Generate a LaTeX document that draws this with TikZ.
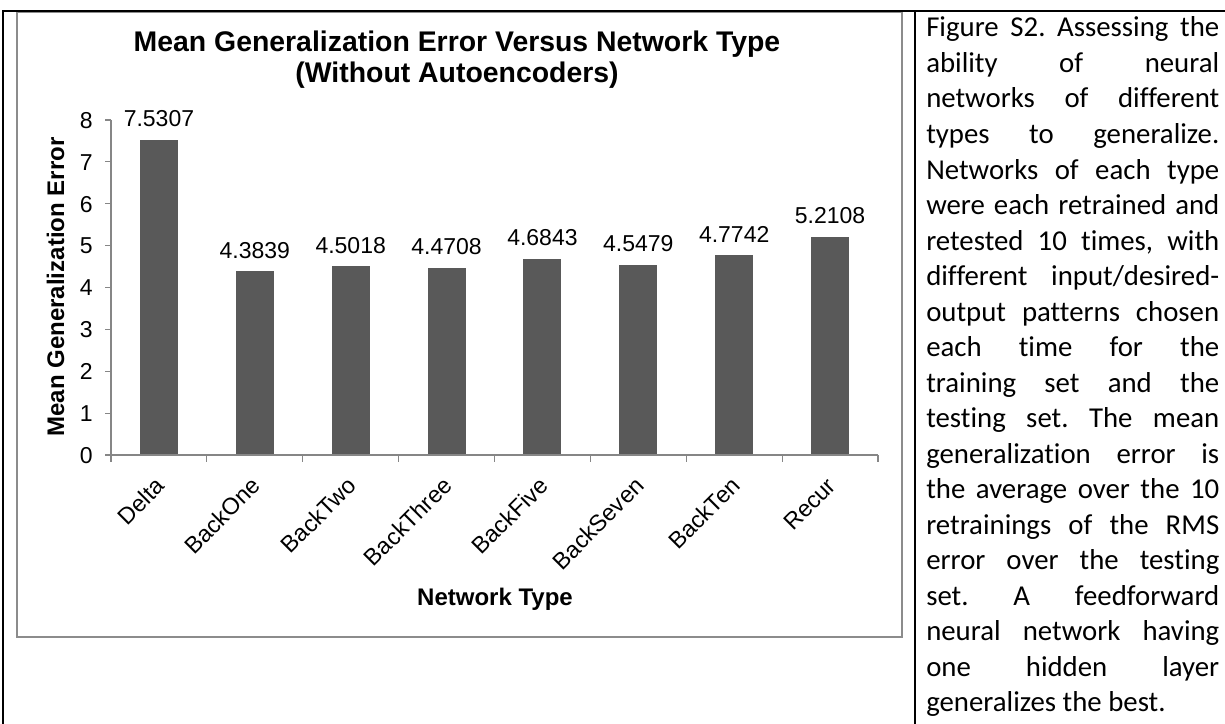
\documentclass[tikz,border=0pt]{standalone}
\usepackage{fontspec}
\setmainfont{Liberation Sans}
\newfontfamily\capfont[Ligatures=NoCommon]{Carlito}
\definecolor{barc}{HTML}{595959}
\definecolor{axc}{HTML}{868686}
\definecolor{framec}{HTML}{8C8C8C}
\tikzset{
  axline/.style={axc, line width=0.8pt},
  ticklab/.style={inner sep=0pt, font=\fontsize{17.25pt}{20pt}\selectfont},
  catlab/.style={inner sep=0pt, rotate=45, anchor=east, text height=0.72em, text depth=0pt, font=\fontsize{17.5pt}{20pt}\selectfont},
  vallab/.style={inner sep=0pt, anchor=base, font=\fontsize{17.25pt}{20pt}\selectfont},
  axtitle/.style={inner sep=0pt, font=\bfseries\fontsize{18pt}{21pt}\selectfont},
  ttl/.style={inner sep=0pt, anchor=base, font=\bfseries\fontsize{21.3pt}{24pt}\selectfont},
  capline/.style={inner sep=0pt, anchor=base west, font=\capfont\fontsize{21.6pt}{26pt}\selectfont},
  barfill/.style={fill=barc}
}
\begin{document}
\frenchspacing
\begin{tikzpicture}[x=0.75pt,y=-0.75pt]
\useasboundingbox (0,0) rectangle (1225,724);
\fill[white] (0,0) rectangle (1225,724);
% chart frame
\draw[framec, line width=0.9pt] (17,12) rectangle (902,637);
% table borders
\draw[black, line width=1.5pt] (3,724) -- (3,11) -- (1225,11);
\draw[black, line width=1.5pt] (915,11) -- (915,724);
% titles
\node[ttl] (title1) at (457,52) {Mean Generalization Error Versus Network Type};
\node[ttl] (title2) at (457,83) {(Without Autoencoders)};
\node[axtitle, rotate=90, anchor=base] (ytitle) at (64,287) {Mean Generalization Error};
\node[axtitle, anchor=base] (xtitle) at (495,605) {Network Type};
% bars
\foreach \v/\nm [count=\i] in {7.5307/Delta,4.3839/BackOne,4.5018/BackTwo,4.4708/BackThree,4.6843/BackFive,4.5479/BackSeven,4.7742/BackTen,5.2108/Recur}{
  \pgfmathsetmacro\cx{111+95.875*(\i-0.5)}
  \pgfmathsetmacro\top{455-41.875*\v}
  \fill[barfill] ({\cx-19},455) rectangle ({\cx+19},\top);
  \node[vallab] (val\i) at (\cx,{\top-13}) {\v};
  \node[catlab] (cat\i) at ({\cx+4},484) {\nm};
}
% axes
\draw[axline] (111,120) -- (111,455) -- (878,455);
\foreach \k in {0,...,8}{
  \draw[axline] (105,{455-41.875*\k}) -- (111,{455-41.875*\k});
  \node[ticklab, anchor=base east] (yt\k) at (93,{455-41.875*\k+8.3}) {\k};
  \draw[axline] ({111+95.875*\k},455) -- ({111+95.875*\k},462);
}
% caption
\foreach \t [count=\k] in {{Figure S2. Assessing the},{ability of neural},{networks of different},{types to generalize.},{Networks of each type},{were each retrained and},{retested 10 times, with},{different input/desired-},{output patterns chosen},{each time for the},{training set and the},{testing set. The mean},{generalization error is},{the average over the 10},{retrainings of the RMS},{error over the testing},{set. A feedforward},{neural network having},{one hidden layer}}{
  \node[capline] (cap\k) at (926,{37+35.5*(\k-1)}) {\makebox[219.75pt][s]{\t}};
}
\node[capline] (cap20) at (926,{37+35.5*19}) {generalizes the best.};
\end{tikzpicture}
\end{document}
